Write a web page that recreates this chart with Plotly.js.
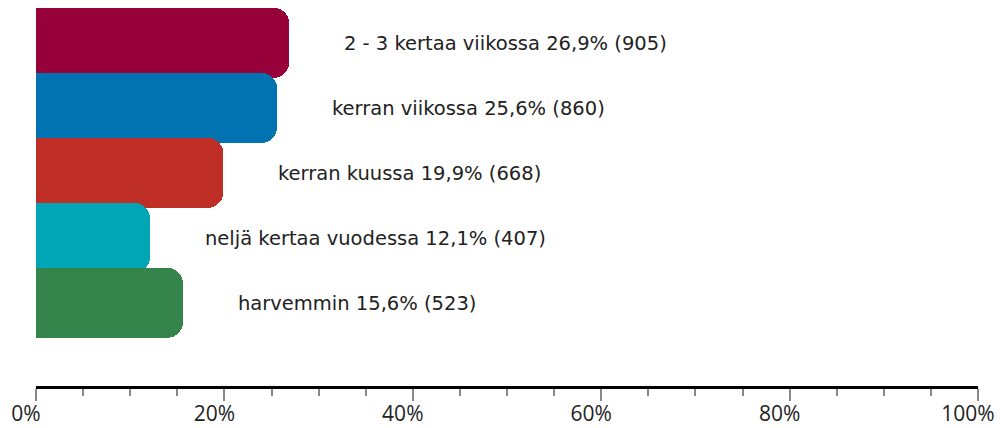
<!DOCTYPE html>
<html><head><meta charset="utf-8">
<script src="https://cdn.plot.ly/plotly-3.0.1.min.js"></script>
<style>html,body{margin:0;padding:0;background:#fff}#chart{width:1000px;height:428px}</style>
</head><body><div id="chart"></div>
<script>
const categories = ["2 - 3 kertaa viikossa", "kerran viikossa", "kerran kuussa", "neljä kertaa vuodessa", "harvemmin"];
const percents = [26.9, 25.6, 19.9, 12.1, 15.6];
const counts = [905, 860, 668, 407, 523];
const colors = ["#98003A", "#0073B0", "#BF2E26", "#00A6B6", "#35844B"];
const tickValues = [0, 20, 40, 60, 80, 100];
const tickLabels = ["0%", "20%", "40%", "60%", "80%", "100%"];

const fmt = v => v.toFixed(1).replace('.', ',');
const FONT = "DejaVu Sans, sans-serif";
const TICKFONT = "Open Sans, sans-serif";

const trace = {
  type: 'bar', orientation: 'h',
  x: percents, y: categories,
  width: 1.08,
  marker: {color: colors, cornerradius: 16, line: {width: 0}},
  hoverinfo: 'skip'
};

const annotations = categories.map((c, i) => ({
  x: percents[i], y: c, xref: 'x', yref: 'y',
  text: c + ' ' + fmt(percents[i]) + '% (' + counts[i] + ')',
  showarrow: false, xanchor: 'left', yanchor: 'middle', xshift: 53, yshift: -1,
  font: {family: FONT, size: 19.5, color: '#222'}
}));

const layout = {
  width: 1000, height: 428,
  margin: {l: 36, r: 22, t: 0, b: 42},
  paper_bgcolor: '#fff', plot_bgcolor: '#fff',
  showlegend: false,
  bargap: 0,
  xaxis: {
    range: [0, 100], tickvals: tickValues, ticktext: tickLabels,
    showgrid: false, zeroline: false,
    showline: true, linecolor: '#000', linewidth: 3,
    ticks: 'outside', ticklen: 12, tickwidth: 2, tickcolor: '#888',
    ticklabelshift: -10, ticklabelstandoff: -5,
    tickfont: {family: TICKFONT, size: 21, color: '#222'},
    minor: {dtick: 5, ticks: 'outside', ticklen: 7, tickwidth: 2, tickcolor: '#888', showgrid: false},
    fixedrange: true
  },
  yaxis: {
    type: 'category', range: [5.28, -0.66],
    showticklabels: false, showgrid: false, zeroline: false, showline: false, ticks: '',
    fixedrange: true
  },
  annotations: annotations
};

Plotly.newPlot('chart', [trace], layout, {displayModeBar: false, staticPlot: true});
</script>
</body></html>
